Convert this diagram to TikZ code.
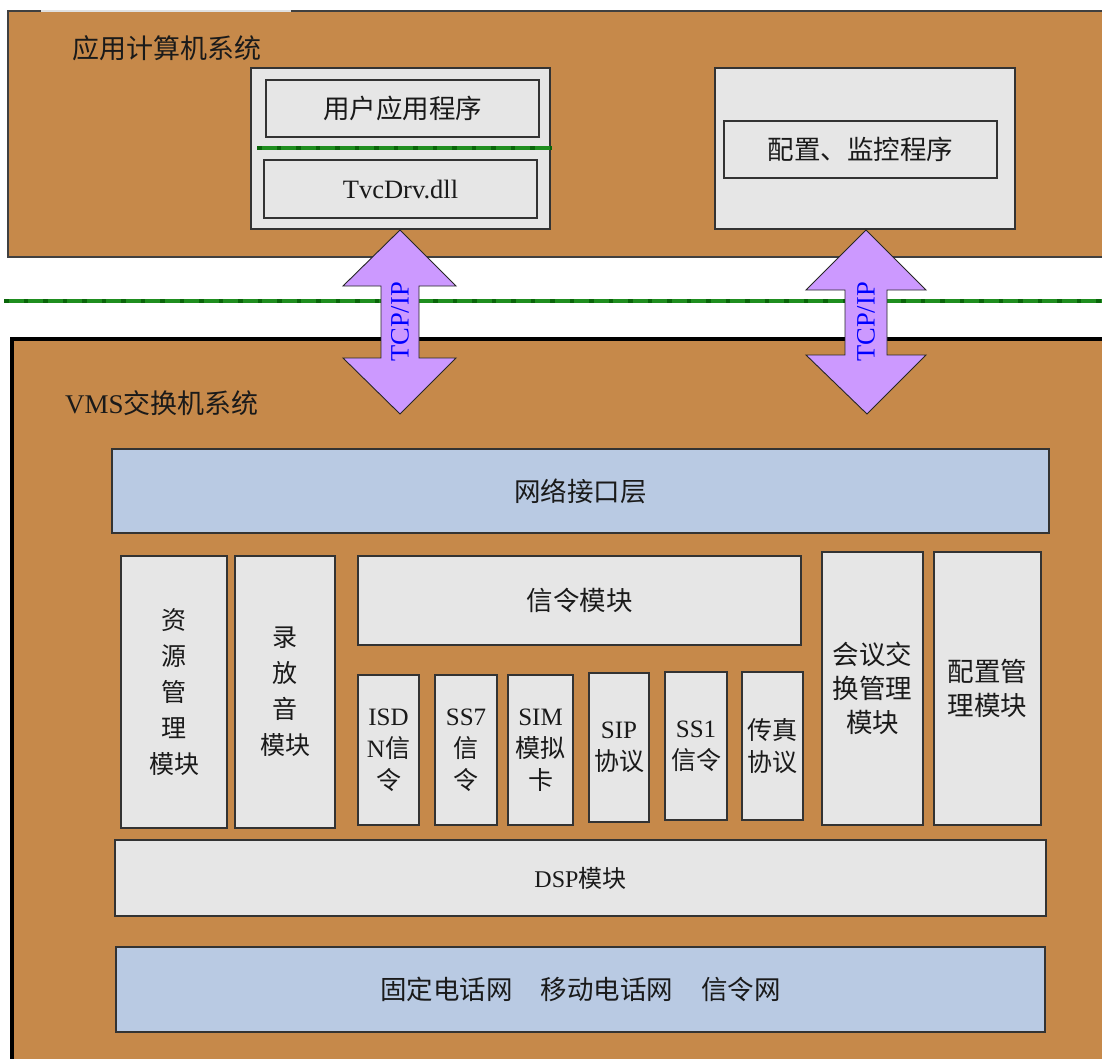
\documentclass[tikz,border=0pt]{standalone}
\usepackage{fontspec}
\setmainfont{Liberation Serif}
\newfontfamily\cjk{Noto Sans CJK SC}
\newcommand\lat[1]{{\rmfamily #1}}
\definecolor{bgbrown}{HTML}{C6894A}
\definecolor{boxgray}{HTML}{E6E6E6}
\definecolor{boxblue}{HTML}{B9CAE3}
\definecolor{arrowfill}{HTML}{CC99FF}
\definecolor{txt}{HTML}{1A1A1A}
\definecolor{gline}{HTML}{1F8E1F}
\definecolor{gdot}{HTML}{0A650A}
\begin{document}
\begin{tikzpicture}[x=1pt,y=-1pt,
  gbox/.style={draw=black!80, line width=1.2pt, fill=boxgray, inner sep=0pt, align=center, text=txt, font=\cjk\fontsize{26.5}{34}\selectfont},
  bbox/.style={gbox, fill=boxblue},
  modbox/.style={gbox, font=\cjk\fontsize{25}{36}\selectfont},
  smallbox/.style={gbox, font=\cjk\fontsize{25}{32}\selectfont},
  title/.style={anchor=west, inner sep=0pt, text=txt, font=\cjk\fontsize{27}{32}\selectfont},
  bigarrow/.style={fill=arrowfill, draw=black!85, line width=0.9pt, line join=miter},
  arrowlabel/.style={rotate=90, inner sep=0pt, text=blue, font=\rmfamily\fontsize{26.5}{30}\selectfont},
  greenline/.style={draw=gline, line width=3.5pt},
  greendots/.style={draw=gdot, line width=3.5pt, dash pattern=on 4.5pt off 15pt}
]
\useasboundingbox (0,0) rectangle (1102,1059);
\fill[white] (0,0) rectangle (1102,1059);
\begin{scope}
  \clip (0,0) rectangle (1102,1059);
  \draw[fill=bgbrown, draw=black!75, line width=1.2pt] (8,11) rectangle (1130,257);
  \draw[draw=black!12, line width=1.4pt] (41,11) -- (291,11);
  \draw[fill=bgbrown, draw=black, line width=3.5pt] (12,339) rectangle (1130,1090);
\end{scope}

% titles
\node[title] (apptitle) at (72,48) {应用计算机系统};
\node[title] (vmstitle) at (65,403) {\lat{VMS}交换机系统};

% application computer
\node[gbox, minimum width=299pt, minimum height=161pt] (leftouter) at (400.5,148.5) {};
\node[gbox, minimum width=273pt, minimum height=57pt] (userapp) at (402.5,108.5) {用户应用程序};
\node[gbox, minimum width=273pt, minimum height=58pt] (tvc) at (400.5,189) {\lat{TvcDrv.dll}};
\coordinate (gl1a) at (257,148);
\coordinate (gl1b) at (552,148);
\draw[greenline] (gl1a) -- (gl1b);
\draw[greendots] (gl1a) -- (gl1b);

\node[gbox, minimum width=300pt, minimum height=161pt] (rightouter) at (865,148.5) {};
\node[gbox, minimum width=273pt, minimum height=57pt] (cfgmon) at (860.5,149.5) {配置、监控程序};

% separating green line
\coordinate (gl2a) at (4,301);
\coordinate (gl2b) at (1102,301);
\draw[greenline] (gl2a) -- (gl2b);
\draw[greendots] (gl2a) -- (gl2b);

% TCP/IP arrows
\draw[bigarrow] (400,230) -- (456,286) -- (419,286) -- (419,358) -- (456,358) -- (400,414)
  -- (343,358) -- (381,358) -- (381,286) -- (343,286) -- cycle;
\node[arrowlabel] (tcp1) at (400,322) {TCP/IP};
\draw[bigarrow] (866,230) -- (926,290) -- (887,290) -- (887,355) -- (926,355) -- (867,414)
  -- (806,355) -- (845,355) -- (845,290) -- (806,290) -- cycle;
\node[arrowlabel] (tcp2) at (866,322) {TCP/IP};

% VMS switch system
\node[bbox, minimum width=937pt, minimum height=84pt] (net) at (580.5,491) {网络接口层};
\node[modbox, minimum width=106pt, minimum height=272pt] (res) at (174,692) {资\\源\\管\\理\\模块};
\node[modbox, minimum width=100pt, minimum height=272pt] (rec) at (285,692) {录\\放\\音\\模块};
\node[gbox, minimum width=443pt, minimum height=89pt] (sig) at (579.5,600.5) {信令模块};
\node[smallbox, minimum width=61pt, minimum height=150pt] (isdn) at (388.5,750) {\lat{ISD}\\\lat{N}信\\令};
\node[smallbox, minimum width=62pt, minimum height=150pt] (ss7) at (466,750) {\lat{SS7}\\信\\令};
\node[smallbox, minimum width=65pt, minimum height=150pt] (sim) at (540.5,750) {\lat{SIM}\\模拟\\卡};
\node[smallbox, minimum width=60pt, minimum height=149pt] (sip) at (619,747.5) {\lat{SIP}\\协议};
\node[smallbox, minimum width=62pt, minimum height=148pt] (ss1) at (696,746) {\lat{SS1}\\信令};
\node[smallbox, minimum width=61pt, minimum height=148pt] (fax) at (772.5,746) {传真\\协议};
\node[gbox, minimum width=101pt, minimum height=273pt] (conf) at (872.5,688.5) {会议交\\换管理\\模块};
\node[gbox, minimum width=107pt, minimum height=273pt] (cfg) at (987.5,688.5) {配置管\\理模块};
\node[gbox, minimum width=931pt, minimum height=76pt, font=\cjk\fontsize{24}{30}\selectfont] (dsp) at (580.5,878) {\lat{DSP}模块};
\node[bbox, minimum width=929pt, minimum height=85pt] (phone) at (580.5,989.5) {固定电话网\hspace{28pt}移动电话网\hspace{28pt}信令网};
\end{tikzpicture}
\end{document}
